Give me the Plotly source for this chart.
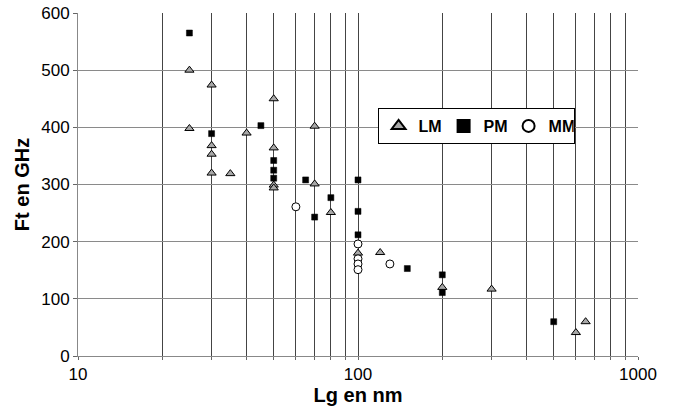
import plotly.graph_objects as go

# Data (Lg in nm, Ft in GHz)
lm_x = [25, 25, 30, 30, 30, 30, 35, 40, 50, 50, 50, 50, 70, 70, 80, 100, 120, 200, 300, 600, 650]
lm_y = [500, 398, 474, 368, 353, 320, 319, 390, 450, 364, 299, 294, 402, 301, 251, 180, 181, 120, 117, 41, 60]

pm_x = [25, 30, 45, 50, 50, 50, 65, 70, 80, 100, 100, 100, 150, 200, 200, 500]
pm_y = [565, 389, 403, 342, 325, 311, 308, 243, 277, 308, 253, 212, 153, 142, 111, 60]

mm_x = [60, 100, 100, 100, 100, 130]
mm_y = [261, 196, 170, 161, 151, 161]

x_ticks = [10, 20, 30, 40, 50, 60, 70, 80, 90,
           100, 200, 300, 400, 500, 600, 700, 800, 900, 1000]
x_labels = ["10", "", "", "", "", "", "", "", "",
            "100", "", "", "", "", "", "", "", "", "1000"]
y_ticks = [0, 100, 200, 300, 400, 500, 600]

fig = go.Figure()
fig.add_trace(go.Scatter(
    x=lm_x, y=lm_y, mode="markers", name="LM",
    marker=dict(symbol="triangle-up", size=8, color="#a8a8a8",
                line=dict(color="black", width=1))))
fig.add_trace(go.Scatter(
    x=pm_x, y=pm_y, mode="markers", name="PM",
    marker=dict(symbol="square", size=6, color="black",
                line=dict(color="black", width=0.5))))
fig.add_trace(go.Scatter(
    x=mm_x, y=mm_y, mode="markers", name="MM",
    marker=dict(symbol="circle", size=8, color="white",
                line=dict(color="black", width=1))))

font_family = "Liberation Sans, Arial, sans-serif"

fig.update_layout(
    width=674, height=406,
    margin=dict(l=78, r=36, t=13, b=50, autoexpand=False),
    paper_bgcolor="white", plot_bgcolor="white",
    font=dict(family=font_family, color="black", size=17),
    showlegend=True,
    legend=dict(
        orientation="h", x=0.535, y=0.723, xanchor="left", yanchor="top",
        bgcolor="white", bordercolor="black", borderwidth=1,
        font=dict(family=font_family, size=16, color="black", weight="bold"),
        itemsizing="constant", itemwidth=30, entrywidth=20,
    ),
    xaxis=dict(
        type="log", range=[1, 3],
        tickvals=x_ticks, ticktext=x_labels,
        showgrid=True, gridcolor="#444444", gridwidth=1,
        showline=True, linecolor="#888888", linewidth=1,
        ticks="outside", ticklen=3, tickcolor="#666666",
        ticklabelstandoff=0, automargin=True,
        zeroline=False,
        title=dict(text="<b>Lg en nm</b>", font=dict(size=20), standoff=0),
    ),
    yaxis=dict(
        range=[0, 600], tickvals=y_ticks,
        showgrid=True, gridcolor="#8a8a8a", gridwidth=1,
        showline=True, linecolor="#888888", linewidth=1,
        ticks="outside", ticklen=4, tickcolor="#666666",
        automargin=True,
        zeroline=False,
        title=dict(text="<b>Ft en GHz</b>", font=dict(size=20), standoff=6),
    ),
)

fig.write_html("out.html")
